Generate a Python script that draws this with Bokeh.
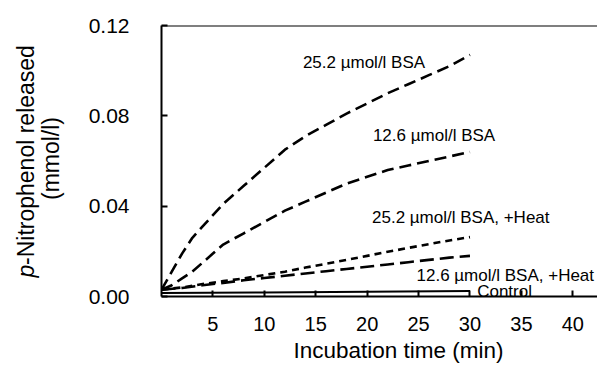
import math
from bokeh.plotting import figure
from bokeh.layouts import row
from bokeh.models import Range1d, FixedTicker, Label, Span, NumeralTickFormatter, Title
from bokeh.core.properties import value
from bokeh.embed import file_html
from bokeh.resources import INLINE

FONT = "Liberation Sans"

# Incubation time (min)
t_bsa = [0, 1, 2, 3, 4, 5, 6, 8, 10, 12, 14, 16, 18, 20, 22, 24, 26, 28, 30]
bsa_252 = [0.003, 0.011, 0.019, 0.026, 0.031, 0.036, 0.041, 0.049, 0.057, 0.065,
           0.071, 0.076, 0.081, 0.0855, 0.090, 0.094, 0.098, 0.102, 0.107]
bsa_126 = [0.003, 0.005, 0.008, 0.011, 0.015, 0.019, 0.023, 0.028, 0.033, 0.038,
           0.042, 0.046, 0.050, 0.053, 0.056, 0.058, 0.060, 0.062, 0.064]

t_heat = [0, 2, 4, 6, 8, 10, 12, 14, 16, 18, 20, 22, 24, 26, 28, 30]
heat_252 = [0.003, 0.004, 0.0055, 0.0068, 0.008, 0.0095, 0.011, 0.0128, 0.0145,
            0.0162, 0.018, 0.0198, 0.0215, 0.0232, 0.0248, 0.0263]
heat_126 = [0.003, 0.0038, 0.005, 0.006, 0.0072, 0.0082, 0.0092, 0.0102, 0.0112,
            0.0122, 0.0132, 0.0142, 0.0152, 0.0162, 0.0172, 0.018]

t_control = [0, 10, 20, 30]
control = [0.0015, 0.0018, 0.0021, 0.0024]

x_ticks = [5, 10, 15, 20, 25, 30, 35, 40]
y_ticks = [0.0, 0.04, 0.08, 0.12]

series_labels = ["25.2 µmol/l BSA", "12.6 µmol/l BSA", "25.2 µmol/l BSA, +Heat",
                 "12.6 µmol/l BSA, +Heat", "Control"]
label_pos = [(13.75, 0.1036), (20.56, 0.0713), (20.47, 0.035), (24.8, 0.0093), (30.7, 0.0024)]

x_title = "Incubation time (min)"
y_title_italic = "p"
y_title_rest = "-Nitrophenol released"
y_title_unit = "(mmol/l)"

H = 372
TOP, BOTTOM = 25, 76   # borders above / below the plotting frame
LW = 75                # width of the y-title strip
W = 597 - LW           # width of the chart itself

# ---- strip carrying the two-line y-axis title (pixel coordinates, y from bottom) ----
left = figure(width=LW, height=H, output_backend="svg", toolbar_location=None,
              x_range=Range1d(0, LW), y_range=Range1d(BOTTOM, H - TOP),
              x_axis_type=None, y_axis_type=None,
              min_border_left=0, min_border_right=0,
              min_border_top=TOP, min_border_bottom=BOTTOM)
left.outline_line_color = None
left.grid.visible = False
left.border_fill_color = "white"
left.text(x=[25], y=[H - 277], text=[y_title_italic], angle=math.pi / 2,
          text_font=value(FONT), text_font_style="italic", text_font_size="23px",
          text_align="left", text_baseline="middle", text_color="black")
left.text(x=[25], y=[H - 264.5], text=[y_title_rest], angle=math.pi / 2,
          text_font=value(FONT), text_font_size="23px",
          text_align="left", text_baseline="middle", text_color="black")
left.text(x=[50], y=[H - 158], text=[y_title_unit], angle=math.pi / 2,
          text_font=value(FONT), text_font_size="23px",
          text_align="center", text_baseline="middle", text_color="black")

# ---- main chart ----
p = figure(width=W, height=H, output_backend="svg", toolbar_location=None,
           x_range=Range1d(0, 42.4), y_range=Range1d(0, 0.12),
           min_border_left=161 - LW, min_border_right=0,
           min_border_top=TOP, min_border_bottom=BOTTOM)
p.outline_line_color = None
p.grid.visible = False
p.background_fill_color = "white"
p.border_fill_color = "white"

for ax in (p.xaxis[0], p.yaxis[0]):
    ax.axis_line_width = 2
    ax.axis_line_color = "black"
    ax.major_tick_in = 6
    ax.major_tick_out = 0
    ax.major_tick_line_width = 2
    ax.minor_tick_line_color = None
    ax.major_label_text_font = FONT
    ax.major_label_text_color = "black"

p.xaxis.major_label_text_font_size = "20px"
p.yaxis.major_label_text_font_size = "21px"
p.xaxis.ticker = FixedTicker(ticks=x_ticks)
p.yaxis.ticker = FixedTicker(ticks=y_ticks)
p.yaxis.formatter = NumeralTickFormatter(format="0.00")
p.xaxis.major_label_standoff = 20
p.yaxis.major_label_standoff = 32

p.add_layout(Title(text=x_title, align="left", offset=293 - 161, text_font=FONT,
                   text_font_size="22.5px", text_font_style="normal", text_color="black",
                   standoff=4), "below")

p.add_layout(Span(location=0.12, dimension="width", line_color="black", line_width=2))

lw = 2.6
p.line(t_bsa, bsa_252, line_color="black", line_width=lw, line_dash="12 6")
p.line(t_bsa, bsa_126, line_color="black", line_width=lw, line_dash="12 6")
p.line(t_heat, heat_252, line_color="black", line_width=lw, line_dash="7 5")
p.line(t_heat, heat_126, line_color="black", line_width=lw, line_dash="14 6")
p.line(t_control, control, line_color="black", line_width=2)

for txt, (lx, ly) in zip(series_labels, label_pos):
    p.add_layout(Label(x=lx, y=ly, text=txt, text_font=FONT, text_font_size="17px",
                       text_align="left", text_baseline="middle", text_color="black"))

layout = row(left, p)
open("out.html", "w").write(file_html(layout, INLINE))
